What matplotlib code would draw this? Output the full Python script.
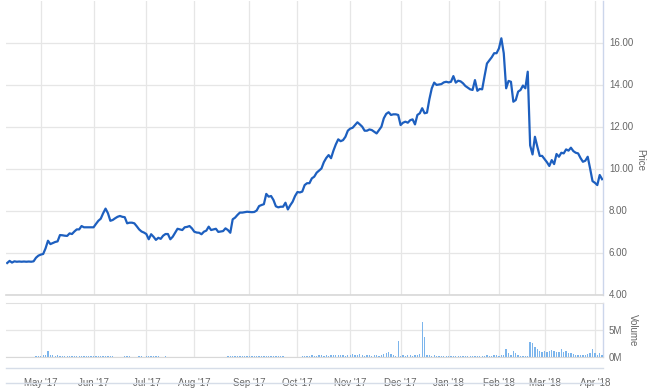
import matplotlib
matplotlib.use("Agg")
import matplotlib.pyplot as plt
from matplotlib.lines import Line2D
import pandas as pd
import numpy as np

# trading calendar (weekends and exchange holidays are skipped, like the ordinal axis)
start_date = "2017-04-10"
end_date = "2018-04-05"
holidays = ["2017-04-14", "2017-05-29", "2017-07-04", "2017-09-04", "2017-11-23",
            "2017-12-25", "2018-01-01", "2018-01-15", "2018-02-19", "2018-03-30"]

# closing price, one value per trading day
price = [
    # Apr '17
    5.50, 5.60, 5.52, 5.58, 5.56, 5.57, 5.56, 5.57, 5.56, 5.57, 5.56, 5.58, 5.75, 5.85,
    # May '17
    5.90, 5.93, 6.20, 6.56, 6.40, 6.45, 6.50, 6.53, 6.83, 6.82, 6.80, 6.79, 6.91, 6.88,
    7.00, 7.10, 7.10, 7.26, 7.20, 7.20, 7.20, 7.20,
    # Jun '17
    7.20, 7.36, 7.51, 7.61, 7.87, 8.09, 7.87, 7.51, 7.55, 7.63, 7.70, 7.74, 7.70, 7.68,
    7.39, 7.42, 7.42, 7.39, 7.25, 7.10, 7.00, 6.95,
    # Jul '17
    6.88, 6.63, 6.87, 6.75, 6.60, 6.70, 6.65, 6.80, 6.88, 6.88, 6.63, 6.75, 6.94, 7.13,
    7.10, 7.07, 7.20, 7.22, 7.26, 7.15,
    # Aug '17
    6.99, 6.95, 6.94, 6.87, 6.99, 7.04, 7.23, 7.07, 7.10, 7.13, 6.98, 7.00, 7.02, 7.15,
    7.07, 6.94, 7.58, 7.66, 7.79, 7.90, 7.90, 7.92, 7.94,
    # Sep '17
    7.93, 7.92, 7.93, 8.00, 8.21, 8.26, 8.30, 8.79, 8.66, 8.69, 8.50, 8.20, 8.15, 8.18,
    8.18, 8.37, 8.05, 8.25, 8.42, 8.69,
    # Oct '17
    8.88, 8.86, 8.90, 9.21, 9.30, 9.30, 9.53, 9.61, 9.80, 9.90, 10.00, 10.30, 10.50, 10.64,
    10.49, 10.85, 11.15, 11.39, 11.30, 11.35, 11.51, 11.80,
    # Nov '17
    11.90, 11.94, 12.07, 12.20, 12.10, 11.99, 11.80, 11.80, 11.86, 11.83, 11.75, 11.67,
    11.83, 11.99, 12.39, 12.60, 12.68, 12.55, 12.58, 12.58, 12.55,
    # Dec '17
    12.07, 12.18, 12.23, 12.18, 12.30, 12.34, 12.10, 12.55, 12.63, 12.87, 12.63, 12.66,
    13.30, 13.82, 14.09, 13.98, 14.00, 14.02, 14.10, 14.13,
    # Jan '18
    14.10, 14.13, 14.40, 14.09, 14.18, 14.15, 14.06, 13.93, 13.85, 13.77, 13.74, 14.21,
    13.70, 13.79, 13.77, 14.40, 15.00, 15.15, 15.30, 15.49, 15.49,
    # Feb '18
    15.72, 16.20, 15.49, 13.82, 14.17, 14.13, 13.18, 13.26, 13.66, 13.74, 13.95, 13.82,
    14.61, 11.10, 10.67, 11.51, 11.04, 10.60, 10.60,
    # Mar '18
    10.45, 10.30, 10.12, 10.40, 10.21, 10.69, 10.56, 10.75, 10.72, 10.91, 10.85, 10.99,
    10.83, 10.75, 10.72, 10.50, 10.32, 10.37, 10.56, 10.00, 9.40,
    # Apr '18
    9.32, 9.21, 9.69, 9.49,
]

# daily volume in millions of shares
volume = [
    # Apr '17
    0.03, 0.03, 0.03, 0.03, 0.03, 0.03, 0.03, 0.03, 0.03, 0.03, 0.05, 0.05, 0.2, 0.15,
    # May '17
    0.3, 0.35, 0.5, 1.15, 0.5, 0.4, 0.3, 0.35, 0.3, 0.2, 0.2, 0.25, 0.3, 0.2, 0.25, 0.3,
    0.2, 0.3, 0.2, 0.15, 0.2, 0.15,
    # Jun '17
    0.25, 0.2, 0.15, 0.3, 0.2, 0.25, 0.15, 0.2, 0.3, 0.1, 0.05, 0.05, 0.05, 0.2, 0.25,
    0.2, 0.05, 0.05, 0.05, 0.15, 0.2, 0.1,
    # Jul '17
    0.2, 0.25, 0.15, 0.2, 0.25, 0.15, 0.05, 0.05, 0.15, 0.03, 0.03, 0.03, 0.03, 0.03,
    0.03, 0.03, 0.03, 0.03, 0.03, 0.03,
    # Aug '17
    0.03, 0.03, 0.03, 0.03, 0.03, 0.03, 0.03, 0.03, 0.03, 0.03, 0.03, 0.03, 0.03, 0.1,
    0.15, 0.2, 0.3, 0.25, 0.2, 0.15, 0.2, 0.15, 0.2,
    # Sep '17
    0.15, 0.2, 0.25, 0.15, 0.2, 0.3, 0.2, 0.25, 0.2, 0.15, 0.2, 0.3, 0.2, 0.25, 0.2,
    0.1, 0.08, 0.05, 0.08, 0.1,
    # Oct '17
    0.1, 0.1, 0.15, 0.3, 0.2, 0.3, 0.4, 0.2, 0.3, 0.35, 0.4, 0.3, 0.5, 0.3, 0.4, 0.5,
    0.4, 0.35, 0.5, 0.4, 0.3, 0.45,
    # Nov '17
    0.5, 0.6, 0.4, 0.5, 0.6, 0.4, 0.3, 0.35, 0.4, 0.3, 0.35, 0.4, 0.3, 0.4, 0.6, 0.7,
    0.9, 0.6, 0.4, 0.3, 2.9,
    # Dec '17
    0.3, 0.4, 0.3, 0.5, 0.4, 0.3, 0.4, 0.5, 0.6, 6.4, 3.7, 0.5, 0.4, 0.3, 0.4, 0.3,
    0.2, 0.3, 0.2, 0.3,
    # Jan '18
    0.3, 0.25, 0.3, 0.2, 0.25, 0.3, 0.2, 0.25, 0.3, 0.2, 0.25, 0.3, 0.2, 0.2, 0.25, 0.3,
    0.35, 0.25, 0.3, 0.35, 0.4,
    # Feb '18
    0.3, 0.5, 0.4, 1.6, 0.8, 0.4, 1.2, 0.7, 0.5, 0.3, 0.3, 0.25, 0.3, 2.8, 2.7, 1.9,
    1.5, 1.1, 0.9,
    # Mar '18
    1.2, 1.0, 1.1, 1.3, 1.1, 1.0, 0.9, 1.5, 0.9, 1.1, 0.8, 0.7, 0.6, 0.5, 0.5, 0.4,
    0.5, 0.5, 0.6, 0.7, 1.5,
    # Apr '18
    0.8, 0.5, 0.8, 0.4,
]

month_starts = ["2017-05-01", "2017-06-01", "2017-07-01", "2017-08-01", "2017-09-01",
                "2017-10-01", "2017-11-01", "2017-12-01", "2018-01-01", "2018-02-01",
                "2018-03-01", "2018-04-01"]
month_labels = ["May '17", "Jun '17", "Jul '17", "Aug '17", "Sep '17", "Oct '17",
                "Nov '17", "Dec '17", "Jan '18", "Feb '18", "Mar '18", "Apr '18"]
price_ticks = [4, 6, 8, 10, 12, 14, 16]
volume_ticks = [0, 5]

days = pd.bdate_range(start_date, end_date)
days = days[~days.isin(pd.to_datetime(holidays))]
x = np.arange(len(days))
tick_pos = days.searchsorted(pd.to_datetime(month_starts))

plt.rcParams["font.family"] = ["Liberation Sans", "DejaVu Sans"]

W, H = 650, 389
fig = plt.figure(figsize=(W / 100, H / 100), dpi=100, facecolor="w")

left = 6 / W
width = (603.3 - 6) / W
ax = fig.add_axes([left, 1 - 294.5 / H, width, 294 / H])
axv = fig.add_axes([left, 1 - 357.3 / H, width, (357.3 - 302.7) / H])

grid_c = "#e6e6e6"
axis_c = "#ccd6eb"
text_c = "#666666"

ax.plot(x, price, color="#1d5fbf", lw=1.6, solid_joinstyle="round", zorder=3)
axv.bar(x, volume, width=0.55, color="#7cb5ec", zorder=3)

for a in (ax, axv):
    a.set_xlim(-0.5, len(days) - 0.5)
    a.set_xticks(tick_pos)
    a.grid(True, color=grid_c, lw=0.9)
    a.set_axisbelow(True)
    a.yaxis.tick_right()
    a.tick_params(length=0, labelsize=7, colors=text_c)
    for s in ("left", "top"):
        a.spines[s].set_visible(False)
    a.spines["right"].set_color(axis_c)
    a.spines["right"].set_linewidth(1)

ax.set_ylim(4, 18)
ax.set_yticks(price_ticks)
ax.set_yticklabels(["%.2f" % p for p in price_ticks])
ax.tick_params(axis="y", pad=4)
ax.set_xticklabels([])
ax.spines["bottom"].set_color("#d8d8d8")
ax.spines["bottom"].set_linewidth(1.2)

axv.set_ylim(0, 10)
axv.set_yticks(volume_ticks)
axv.set_yticklabels(["%dM" % v for v in volume_ticks])
axv.tick_params(axis="y", pad=4)
axv.set_xticklabels(month_labels)
axv.tick_params(axis="x", pad=15)
axv.spines["bottom"].set_color("#d8d8d8")
axv.spines["top"].set_visible(True)
axv.spines["top"].set_color("#e0e0e0")

# axis titles placed like the reference, reading top to bottom
fig.text(640 / W, 1 - 160 / H, "Price", rotation=270, fontsize=7, color=text_c,
         ha="center", va="center")
fig.text(633 / W, 1 - 330 / H, "Volume", rotation=270, fontsize=7, color=text_c,
         ha="center", va="center")

# navigator strip lines under the volume panel
for yy in (368.3, 383.3):
    fig.add_artist(Line2D([left, left + width], [1 - yy / H, 1 - yy / H],
                          transform=fig.transFigure, color="#d6dde8", lw=1))

fig.savefig("out.png", dpi=100, facecolor="w")
